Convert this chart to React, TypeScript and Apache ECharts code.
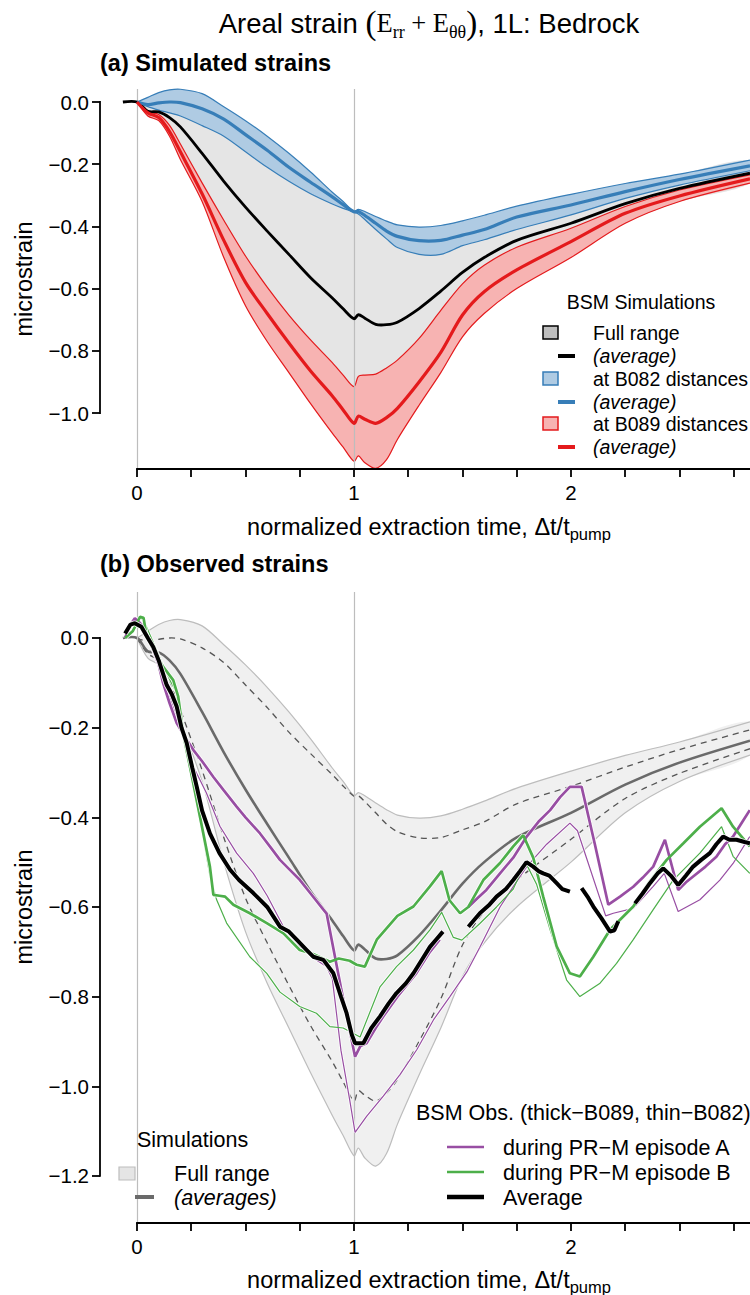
import React, { useEffect, useRef } from "react";
import * as echarts from "echarts";

// ---------------- data ----------------
// common x positions of the simulated curves (normalized extraction time)
const simX = [0, 0.05, 0.1, 0.15, 0.2, 0.3, 0.4, 0.5, 0.6, 0.7, 0.8, 0.9, 0.95, 1.0, 1.02, 1.05, 1.1, 1.15, 1.2, 1.3, 1.4, 1.5, 1.6, 1.75, 2.0, 2.25, 2.5, 2.825];
const simLeadX = -0.065;

const b082Upper = [0, 0.015, 0.03, 0.039, 0.041, 0.027, -0.015, -0.06, -0.11, -0.165, -0.225, -0.29, -0.32, -0.352, -0.345, -0.352, -0.368, -0.383, -0.395, -0.402, -0.397, -0.382, -0.364, -0.335, -0.297, -0.262, -0.232, -0.187];
const b082Avg = [0, -0.008, -0.003, 0.0, -0.002, -0.022, -0.055, -0.105, -0.155, -0.21, -0.258, -0.305, -0.33, -0.353, -0.352, -0.365, -0.39, -0.415, -0.432, -0.446, -0.445, -0.428, -0.41, -0.37, -0.331, -0.288, -0.249, -0.205];
const b082Lower = [0, -0.015, -0.026, -0.035, -0.045, -0.076, -0.11, -0.16, -0.21, -0.255, -0.295, -0.328, -0.342, -0.354, -0.36, -0.378, -0.41, -0.44, -0.468, -0.49, -0.49, -0.462, -0.443, -0.41, -0.363, -0.31, -0.267, -0.221];
const simAvg = [0, -0.03, -0.032, -0.05, -0.08, -0.165, -0.255, -0.338, -0.415, -0.49, -0.565, -0.63, -0.665, -0.697, -0.684, -0.695, -0.715, -0.716, -0.708, -0.664, -0.608, -0.548, -0.5, -0.445, -0.39, -0.327, -0.278, -0.229];
const b089Upper = [0, -0.03, -0.04, -0.075, -0.135, -0.26, -0.38, -0.495, -0.595, -0.685, -0.765, -0.838, -0.878, -0.915, -0.882, -0.878, -0.875, -0.855, -0.83, -0.76, -0.67, -0.585, -0.525, -0.467, -0.406, -0.336, -0.283, -0.234];
const b089Avg = [0, -0.035, -0.05, -0.095, -0.16, -0.295, -0.445, -0.58, -0.68, -0.775, -0.865, -0.945, -0.99, -1.033, -1.01, -1.02, -1.033, -1.015, -0.985, -0.9, -0.805, -0.685, -0.61, -0.54, -0.449, -0.358, -0.302, -0.247];
const b089Lower = [0, -0.045, -0.06, -0.11, -0.185, -0.32, -0.5, -0.655, -0.77, -0.87, -0.97, -1.065, -1.11, -1.155, -1.138, -1.16, -1.178, -1.15, -1.085, -0.975, -0.87, -0.755, -0.68, -0.6, -0.5, -0.39, -0.32, -0.261];

// observed strains [x, microstrain]; null marks a gap
const obsAvg = [[-0.055, 0.01], [-0.03, 0.03], [-0.01, 0.033], [0.02, 0.025], [0.05, 0.0], [0.075, -0.02], [0.1, -0.05], [0.137, -0.105], [0.16, -0.125], [0.183, -0.153], [0.205, -0.2], [0.229, -0.234], [0.255, -0.29], [0.275, -0.331], [0.3, -0.385], [0.336, -0.436], [0.38, -0.48], [0.429, -0.517], [0.47, -0.54], [0.536, -0.569], [0.6, -0.6], [0.659, -0.644], [0.7, -0.655], [0.736, -0.673], [0.78, -0.695], [0.812, -0.711], [0.859, -0.718], [0.905, -0.748], [0.94, -0.8], [0.966, -0.837], [0.99, -0.885], [1.005, -0.904], [1.043, -0.904], [1.08, -0.87], [1.12, -0.844], [1.16, -0.815], [1.196, -0.792], [1.24, -0.77], [1.274, -0.748], [1.31, -0.72], [1.35, -0.689], [1.38, -0.672], [1.41, -0.655], [1.47, null], [1.527, -0.644], [1.58, -0.614], [1.62, -0.597], [1.657, -0.577], [1.7, -0.56], [1.734, -0.54], [1.765, -0.52], [1.795, -0.5], [1.826, -0.51], [1.85, -0.52], [1.872, -0.525], [1.9, -0.53], [1.934, -0.547], [1.96, -0.56], [1.995, -0.566], [2.02, null], [2.049, -0.558], [2.08, -0.58], [2.103, -0.599], [2.14, -0.625], [2.18, -0.655], [2.2, -0.652], [2.218, -0.632], [2.25, null], [2.295, -0.592], [2.33, -0.57], [2.364, -0.547], [2.4, -0.525], [2.425, -0.514], [2.46, -0.53], [2.494, -0.551], [2.53, -0.53], [2.563, -0.51], [2.6, -0.495], [2.64, -0.48], [2.67, -0.46], [2.701, -0.443], [2.73, -0.45], [2.763, -0.45], [2.8, -0.455], [2.825, -0.458]];
const obsEpA_B089 = [[-0.055, 0.0], [-0.03, 0.03], [-0.01, 0.044], [0.01, 0.035], [0.028, 0.026], [0.05, 0.0], [0.075, -0.027], [0.1, -0.06], [0.12, -0.1], [0.15, -0.145], [0.183, -0.19], [0.214, -0.215], [0.26, -0.25], [0.3, -0.275], [0.352, -0.31], [0.4, -0.34], [0.459, -0.376], [0.5, -0.4], [0.567, -0.436], [0.62, -0.47], [0.659, -0.495], [0.7, -0.515], [0.751, -0.54], [0.8, -0.57], [0.859, -0.606], [0.874, -0.615], [0.94, -0.78], [1.005, -0.934], [1.03, -0.91], [1.058, -0.904], [1.1, -0.87], [1.134, -0.845], [1.2, -0.8], [1.287, -0.748], [1.35, -0.7], [1.395, -0.673], [1.46, null], [1.527, -0.6], [1.57, -0.58], [1.61, -0.562], [1.673, -0.525], [1.734, -0.49], [1.796, -0.443], [1.85, -0.41], [1.904, -0.384], [1.95, -0.355], [1.995, -0.332], [2.049, -0.332], [2.11, -0.46], [2.172, -0.595], [2.226, -0.577], [2.287, -0.555], [2.33, -0.535], [2.379, -0.51], [2.433, -0.45], [2.494, -0.562], [2.53, -0.545], [2.563, -0.532], [2.62, -0.51], [2.67, -0.488], [2.71, -0.46], [2.747, -0.443], [2.79, -0.41], [2.824, -0.384]];
const obsEpA_B082 = [[-0.055, 0.0], [-0.03, 0.03], [-0.01, 0.04], [0.02, 0.025], [0.05, 0.0], [0.1, -0.06], [0.15, -0.13], [0.2, -0.2], [0.26, -0.287], [0.32, -0.346], [0.382, -0.42], [0.459, -0.48], [0.536, -0.525], [0.6, -0.575], [0.675, -0.644], [0.75, -0.688], [0.8, -0.71], [0.873, -0.733], [0.9, -0.76], [0.94, -0.92], [0.98, -1.03], [1.005, -1.103], [1.058, -1.067], [1.135, -1.022], [1.212, -0.974], [1.29, -0.918], [1.366, -0.852], [1.442, -0.8], [1.52, -0.745], [1.58, -0.69], [1.673, -0.6], [1.74, -0.55], [1.796, -0.51], [1.888, -0.46], [1.995, -0.413], [2.03, -0.43], [2.16, -0.62], [2.195, -0.614], [2.287, -0.603], [2.379, -0.554], [2.43, -0.525], [2.494, -0.61], [2.594, -0.584], [2.686, -0.54], [2.747, -0.503], [2.824, -0.443]];
const obsEpB_B089 = [[-0.055, 0.0], [-0.02, 0.015], [0.014, 0.047], [0.03, 0.045], [0.045, 0.003], [0.08, -0.03], [0.12, -0.064], [0.167, -0.094], [0.19, -0.131], [0.213, -0.213], [0.244, -0.287], [0.29, -0.398], [0.336, -0.51], [0.352, -0.573], [0.38, -0.575], [0.406, -0.577], [0.444, -0.595], [0.52, -0.614], [0.598, -0.636], [0.675, -0.659], [0.75, -0.696], [0.812, -0.705], [0.889, -0.722], [0.93, -0.715], [0.98, -0.72], [1.012, -0.729], [1.05, -0.733], [1.105, -0.673], [1.2, -0.62], [1.274, -0.599], [1.35, -0.554], [1.404, -0.52], [1.44, -0.585], [1.489, -0.614], [1.527, -0.6], [1.596, -0.54], [1.673, -0.502], [1.734, -0.465], [1.78, -0.44], [1.826, -0.49], [1.872, -0.577], [1.934, -0.688], [1.995, -0.748], [2.041, -0.755], [2.103, -0.711], [2.18, -0.651], [2.287, -0.599], [2.36, -0.545], [2.441, -0.495], [2.518, -0.458], [2.594, -0.421], [2.694, -0.38], [2.747, -0.421], [2.824, -0.465]];
const obsEpB_B082 = [[-0.055, 0.0], [-0.02, 0.015], [0.014, 0.045], [0.03, 0.04], [0.075, -0.01], [0.12, -0.06], [0.152, -0.094], [0.18, -0.12], [0.194, -0.17], [0.22, -0.24], [0.26, -0.33], [0.3, -0.43], [0.336, -0.53], [0.367, -0.584], [0.413, -0.636], [0.52, -0.711], [0.598, -0.748], [0.659, -0.79], [0.75, -0.822], [0.827, -0.837], [0.889, -0.867], [0.95, -0.87], [1.028, -0.89], [1.12, -0.778], [1.196, -0.733], [1.274, -0.696], [1.35, -0.651], [1.404, -0.612], [1.458, -0.668], [1.497, -0.674], [1.58, -0.637], [1.657, -0.6], [1.734, -0.56], [1.79, -0.5], [1.842, -0.55], [1.904, -0.651], [1.98, -0.763], [2.041, -0.8], [2.134, -0.77], [2.21, -0.726], [2.287, -0.673], [2.379, -0.606], [2.471, -0.54], [2.594, -0.48], [2.694, -0.421], [2.747, -0.487], [2.824, -0.525]];

const xTicks = [0, 0.25, 0.5, 0.75, 1, 1.25, 1.5, 1.75, 2, 2.25, 2.5, 2.75];
const xTickLabels = [0, 1, 2];
const yTicksA = [0, -0.2, -0.4, -0.6, -0.8, -1.0];
const yTicksB = [0, -0.2, -0.4, -0.6, -0.8, -1.0, -1.2];
const refLines = [0, 1];

// ---------------- styling ----------------
const SANS = "'Liberation Sans', Arial, Helvetica, sans-serif";
const SERIF = "'Liberation Serif', 'DejaVu Serif', serif";
const BLUE = "#377EB8";
const RED = "#E41A1C";
const PURPLE = "#984EA3";
const GREEN = "#4DAF4A";
const SM = 0.3;
const X_MIN = -0.1705;
const X_MAX = 2.825;
const YA = [-1.18, 0.0418];
const YB = [-1.305, 0.1026];
const FS = 20.5;
const FS_LAB = 23.5;
const FS_LEGA = 19.5;
const FS_LEGB = 21.5;
const AXIS_W = 1.8;

const fmtY = (v: number) => {
  const s = Math.abs(v).toFixed(1);
  return v < -1e-9 ? "\u2212" + s : s;
};

function bandSeries(gi: number, upper: number[], lower: number[], fill: string, stroke: string | null, z: number) {
  return {
    type: "custom",
    xAxisIndex: gi,
    yAxisIndex: gi,
    z,
    silent: true,
    data: [[0, 0]],
    renderItem: (_p: any, api: any) => {
      const up = simX.map((x, i) => api.coord([x, upper[i]]));
      const lo = simX.map((x, i) => api.coord([x, lower[i]]));
      const children: any[] = [
        { type: "polygon", shape: { points: up.concat(lo.slice().reverse()), smooth: SM }, style: { fill, stroke: "none" } },
      ];
      if (stroke) {
        children.push({ type: "polyline", shape: { points: up, smooth: SM }, style: { fill: "none", stroke, lineWidth: 1.2 } });
        children.push({ type: "polyline", shape: { points: lo, smooth: SM }, style: { fill: "none", stroke, lineWidth: 1.2 } });
      }
      return { type: "group", children };
    },
  };
}

function simLine(gi: number, values: number[], color: string, width: number, z: number, dash?: number[], lead?: boolean) {
  return {
    type: "custom",
    xAxisIndex: gi,
    yAxisIndex: gi,
    z,
    silent: true,
    data: [[0, 0]],
    renderItem: (_p: any, api: any) => {
      let pts = simX.map((x, i) => api.coord([x, values[i]]));
      if (lead) pts = [api.coord([simLeadX, 0])].concat(pts);
      return {
        type: "polyline",
        shape: { points: pts, smooth: SM },
        style: { fill: "none", stroke: color, lineWidth: width, lineDash: dash || null, lineCap: "butt" },
      };
    },
  };
}

// R-style axis line spanning only the tick range
function axisLineSeries(gi: number, pts: number[][]) {
  return {
    type: "line", xAxisIndex: gi, yAxisIndex: gi, data: pts, symbol: "none", showSymbol: false, silent: true,
    clip: false, z: 30, lineStyle: { color: "#000", width: AXIS_W, cap: "square" }, emphasis: { disabled: true },
  };
}

function obsLine(data: any[], color: string, width: number, z: number) {
  return [
    {
      type: "line", xAxisIndex: 1, yAxisIndex: 1, data, symbol: "none", showSymbol: false, connectNulls: false, silent: true, z: z - 1,
      lineStyle: { color: "#ffffff", width: width + 1.6, opacity: 0.9 }, emphasis: { disabled: true },
    },
    {
      type: "line", xAxisIndex: 1, yAxisIndex: 1, data, symbol: "none", showSymbol: false, connectNulls: false, silent: true, z,
      lineStyle: { color, width }, emphasis: { disabled: true },
    },
  ];
}

function refLineSeries(gi: number, z: number) {
  return {
    type: "line", xAxisIndex: gi, yAxisIndex: gi, data: [[0, 0]], symbol: "none", silent: true, z,
    lineStyle: { opacity: 0 },
    markLine: {
      silent: true, symbol: ["none", "none"], label: { show: false },
      lineStyle: { color: "#bdbdbd", width: 1.2, type: "solid" },
      emphasis: { disabled: true },
      data: refLines.map((v) => ({ xAxis: v })),
    },
  };
}

function xAxisCfg(gi: number) {
  return {
    type: "value", gridIndex: gi, min: X_MIN, max: X_MAX, position: "bottom",
    axisLine: { show: false, onZero: false },
    axisTick: { show: true, customValues: xTicks, length: 8, lineStyle: { color: "#000", width: AXIS_W } },
    axisLabel: { show: true, customValues: xTickLabels, margin: 13, fontSize: FS, fontFamily: SANS, color: "#000", formatter: (v: number) => String(Math.round(v)) },
    splitLine: { show: false },
  };
}

function yAxisCfg(gi: number, range: number[], ticks: number[]) {
  return {
    type: "value", gridIndex: gi, min: range[0], max: range[1], position: "left",
    axisLine: { show: false, onZero: false },
    axisTick: { show: true, customValues: ticks, length: 8, lineStyle: { color: "#000", width: AXIS_W } },
    axisLabel: { show: true, customValues: ticks, margin: 11, fontSize: FS, fontFamily: SANS, color: "#000", formatter: fmtY },
    splitLine: { show: false },
  };
}

const txt = (x: number, y: number, text: string, opts: any = {}) => ({
  type: "text", x, y, z: 100, silent: true,
  style: {
    text, fill: "#000", fontSize: opts.size || FS, fontFamily: opts.family || SANS,
    fontStyle: opts.italic ? "italic" : "normal", fontWeight: opts.bold ? "bold" : "normal",
    align: opts.align || "left", textAlign: opts.align || "left", verticalAlign: "middle", textVerticalAlign: "middle",
    rich: opts.rich,
  },
  rotation: opts.rotation || 0,
});
const hline = (x1: number, x2: number, y: number, color: string, w: number) => ({
  type: "line", z: 100, silent: true, shape: { x1, y1: y, x2, y2: y }, style: { stroke: color, lineWidth: w },
});
const box = (x: number, y: number, fill: string, stroke: string) => ({
  type: "rect", z: 100, silent: true, shape: { x, y, width: 15, height: 13 }, style: { fill, stroke, lineWidth: 1.5 },
});

const option: any = {
  animation: false,
  backgroundColor: "#ffffff",
  grid: [
    { left: 100, right: 0, top: 89, bottom: 826 },
    { left: 100, right: 0, top: 592, bottom: 72 },
  ],
  xAxis: [xAxisCfg(0), xAxisCfg(1)],
  yAxis: [yAxisCfg(0, YA, yTicksA), yAxisCfg(1, YB, yTicksB)],
  series: [
    // panel (a)
    bandSeries(0, b082Upper, b089Lower, "#e5e5e5", null, 1),
    bandSeries(0, b082Upper, b082Lower, "#afcbe3", BLUE, 2),
    bandSeries(0, b089Upper, b089Lower, "#f7b3b2", RED, 2),
    refLineSeries(0, 3),
    simLine(0, simAvg, "#000", 2.8, 5, undefined, true),
    simLine(0, b082Avg, BLUE, 3.2, 5),
    simLine(0, b089Avg, RED, 3.2, 5),
    axisLineSeries(0, [[X_MIN, yTicksA[0]], [X_MIN, yTicksA[yTicksA.length - 1]]]),
    axisLineSeries(0, [[xTicks[0], YA[0]], [X_MAX, YA[0]]]),
    // panel (b)
    refLineSeries(1, 0),
    bandSeries(1, b082Upper, b089Lower, "#f0f0f0", "#bdbdbd", 1),
    simLine(1, b082Avg, "#555", 1.3, 2, [6, 5]),
    simLine(1, b089Avg, "#555", 1.3, 2, [6, 5]),
    simLine(1, simAvg, "#6a6a6a", 2.6, 3, undefined, true),
    ...obsLine(obsEpA_B082, PURPLE, 1.2, 6),
    ...obsLine(obsEpB_B082, GREEN, 1.2, 6),
    ...obsLine(obsEpA_B089, PURPLE, 2.7, 8),
    ...obsLine(obsEpB_B089, GREEN, 2.7, 8),
    ...obsLine(obsAvg, "#000", 4, 10),
    axisLineSeries(1, [[X_MIN, yTicksB[0]], [X_MIN, yTicksB[yTicksB.length - 1]]]),
    axisLineSeries(1, [[xTicks[0], YB[0]], [X_MAX, YB[0]]]),
  ],
};

export default function App() {
  const ref = useRef<HTMLDivElement>(null);
  useEffect(() => {
    const chart = echarts.init(ref.current!, null, { renderer: "svg" });
    chart.setOption(option);

    const titleRich = {
      s: { fontFamily: SANS, fontSize: 27.5, lineHeight: 36, verticalAlign: "middle" },
      p: { fontFamily: SERIF, fontSize: 33, lineHeight: 36, verticalAlign: "middle" },
      e: { fontFamily: SERIF, fontSize: 26.5, lineHeight: 36, verticalAlign: "middle" },
      sub: { fontFamily: SERIF, fontSize: 18, lineHeight: 18, verticalAlign: "bottom" },
    };
    const xTitleRich = {
      t: { fontFamily: SANS, fontSize: FS_LAB, lineHeight: 30, verticalAlign: "middle" },
      sub: { fontFamily: SANS, fontSize: 16.5, lineHeight: 16, verticalAlign: "bottom" },
    };

    const graphics: any[] = [
      txt(429, 23, "{s|Areal strain }{p|(}{e|E}{sub|rr}{e| + E}{sub|\u03b8\u03b8}{p|)}{s|, 1L: Bedrock}", { align: "center", rich: titleRich }),
      txt(100, 63, "(a) Simulated strains", { bold: true, size: 23.5 }),
      txt(100, 564, "(b) Observed strains", { bold: true, size: 23.5 }),
      txt(429, 527, "{t|normalized extraction time, \u0394t/t}{sub|pump}", { align: "center", rich: xTitleRich }),
      txt(429, 1280, "{t|normalized extraction time, \u0394t/t}{sub|pump}", { align: "center", rich: xTitleRich }),
      txt(24, 279, "microstrain", { align: "center", rotation: Math.PI / 2, size: FS_LAB }),
      txt(24, 907, "microstrain", { align: "center", rotation: Math.PI / 2, size: FS_LAB }),
      // legend (a)
      txt(641, 302, "BSM Simulations", { align: "center", size: FS_LEGA }),
      box(543, 326, "#bebebe", "#000"),
      txt(593, 333, "Full range", { size: FS_LEGA }),
      hline(558, 575, 356, "#000", 4),
      txt(593, 356, "(average)", { italic: true, size: FS_LEGA }),
      box(543, 372, "#afcbe3", BLUE),
      txt(593, 379, "at B082 distances", { size: FS_LEGA }),
      hline(558, 575, 402, BLUE, 4),
      txt(593, 402, "(average)", { italic: true, size: FS_LEGA }),
      box(543, 417, "#f7b3b2", RED),
      txt(593, 424, "at B089 distances", { size: FS_LEGA }),
      hline(558, 575, 447, RED, 4),
      txt(593, 447, "(average)", { italic: true, size: FS_LEGA }),
      // legend (b) observed
      txt(416, 1113, "BSM Obs. (thick\u2212B089, thin\u2212B082)", { size: FS_LEGB }),
      hline(447, 484, 1147, PURPLE, 2.7),
      txt(503, 1148, "during PR\u2212M episode A", { size: FS_LEGB }),
      hline(447, 484, 1172, GREEN, 2.7),
      txt(503, 1173, "during PR\u2212M episode B", { size: FS_LEGB }),
      hline(447, 484, 1197, "#000", 4.5),
      txt(503, 1198, "Average", { size: FS_LEGB }),
      // legend (b) simulations
      txt(137, 1140, "Simulations", { size: FS_LEGB }),
      { type: "rect", z: 100, silent: true, shape: { x: 119, y: 1167, width: 16, height: 13 }, style: { fill: "#e5e5e5", stroke: "#bdbdbd", lineWidth: 1.2 } },
      txt(174, 1174, "Full range", { size: FS_LEGB }),
      hline(135, 154, 1197, "#6a6a6a", 4),
      txt(174, 1198, "(averages)", { italic: true, size: FS_LEGB }),
    ];
    chart.setOption({ graphic: graphics });
    return () => chart.dispose();
  }, []);
  return <div ref={ref} style={{ position: "absolute", left: 0, top: 0, width: 750, height: 1295, background: "#fff" }} />;
}
